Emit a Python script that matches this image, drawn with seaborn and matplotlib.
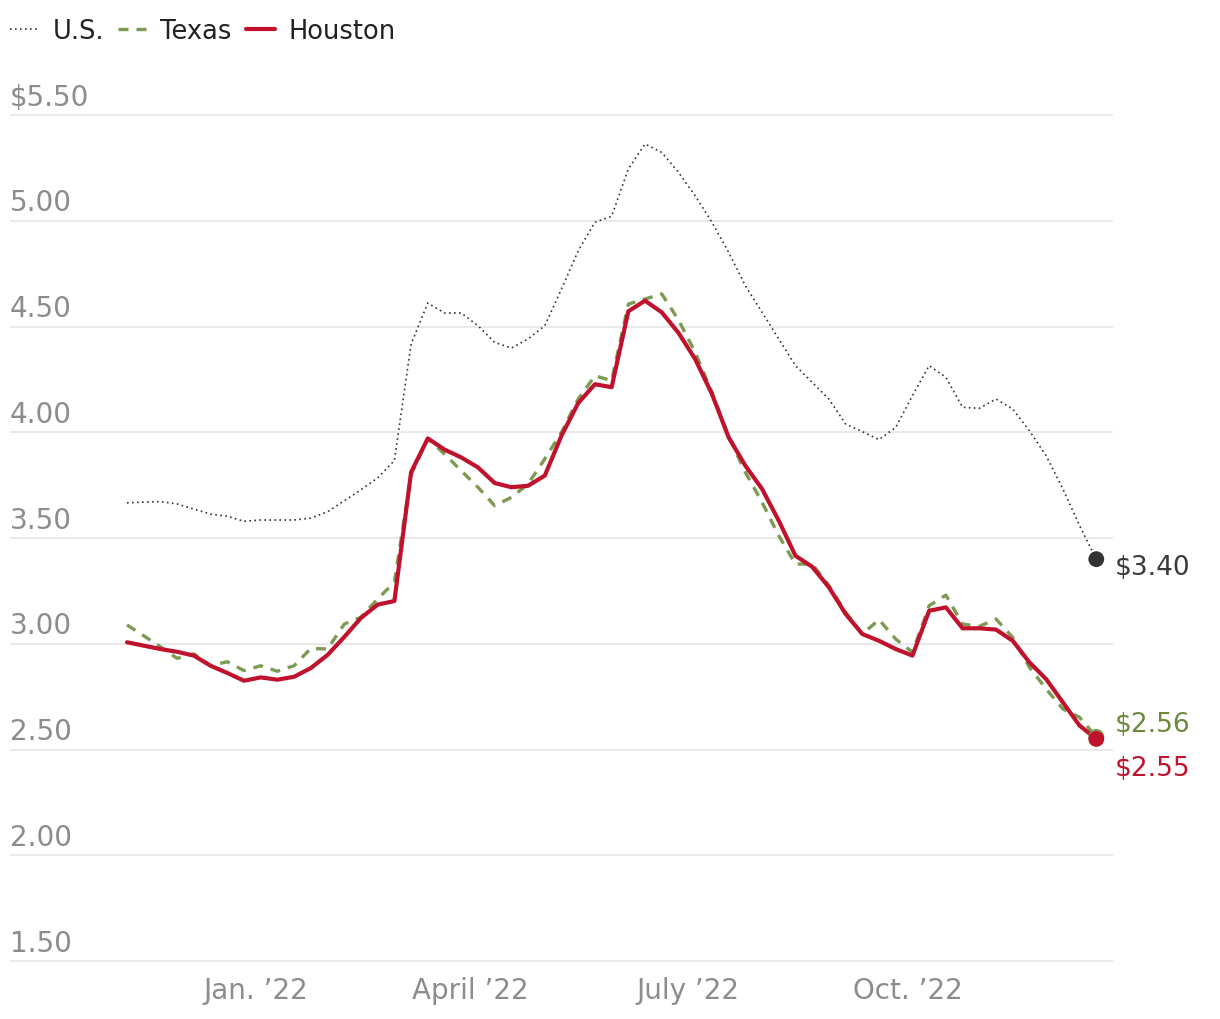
import numpy as np
import pandas as pd
import matplotlib
matplotlib.use("Agg")
import matplotlib.pyplot as plt
import seaborn as sns
from matplotlib.lines import Line2D

# ---------------- data ----------------
start_date = "2021-11-08"
n_weeks = 59

us_price = [3.666, 3.670, 3.672, 3.661, 3.637, 3.613, 3.603, 3.579, 3.585, 3.585,
            3.585, 3.594, 3.624, 3.676, 3.728, 3.784, 3.866, 4.417, 4.611, 4.564,
            4.564, 4.504, 4.425, 4.398, 4.441, 4.504, 4.677, 4.858, 4.993, 5.021,
            5.245, 5.363, 5.323, 5.229, 5.118, 4.993, 4.851, 4.693, 4.567, 4.441,
            4.315, 4.236, 4.157, 4.039, 4.003, 3.965, 4.023, 4.173, 4.315, 4.260,
            4.118, 4.113, 4.157, 4.110, 4.007, 3.889, 3.732, 3.558, 3.40]

texas_price = [3.089, 3.038, 2.986, 2.931, 2.952, 2.896, 2.915, 2.873, 2.896, 2.870,
               2.896, 2.978, 2.975, 3.093, 3.125, 3.212, 3.291, 3.800, 3.970, 3.897,
               3.818, 3.740, 3.653, 3.692, 3.755, 3.874, 4.000, 4.157, 4.267, 4.244,
               4.606, 4.630, 4.654, 4.531, 4.378, 4.189, 3.980, 3.811, 3.669, 3.511,
               3.377, 3.377, 3.275, 3.149, 3.046, 3.114, 3.022, 2.960, 3.180, 3.230,
               3.093, 3.082, 3.117, 3.030, 2.889, 2.786, 2.692, 2.652, 2.56]

houston_price = [3.007, 2.991, 2.975, 2.962, 2.944, 2.896, 2.862, 2.825, 2.841, 2.830,
                 2.844, 2.885, 2.947, 3.032, 3.122, 3.185, 3.202, 3.811, 3.971, 3.918,
                 3.881, 3.834, 3.760, 3.740, 3.747, 3.795, 3.984, 4.138, 4.227, 4.213,
                 4.572, 4.622, 4.567, 4.470, 4.346, 4.181, 3.976, 3.842, 3.732, 3.582,
                 3.416, 3.364, 3.267, 3.141, 3.046, 3.014, 2.975, 2.944, 3.156, 3.172,
                 3.073, 3.073, 3.067, 3.014, 2.912, 2.833, 2.723, 2.613, 2.55]

series_names = ["U.S.", "Texas", "Houston"]
end_labels = ["$3.40", "$2.56", "$2.55"]

y_ticks = [1.5, 2.0, 2.5, 3.0, 3.5, 4.0, 4.5, 5.0, 5.5]
y_tick_labels = ["1.50", "2.00", "2.50", "3.00", "3.50", "4.00", "4.50", "5.00", "$5.50"]

x_tick_dates = ["2022-01-01", "2022-04-01", "2022-07-01", "2022-10-01"]
x_tick_labels = ["Jan. \u201922", "April \u201922", "July \u201922", "Oct. \u201922"]

# ---------------- style ----------------
sns.set_theme(style="white")
plt.rcParams["font.family"] = ["DejaVu Sans"]

us_color = "#333333"
tx_color = "#7d9a52"
tx_text_color = "#6a8a3c"
hou_color = "#c0122c"
grid_color = "#e3e3e3"
tick_color = "#8c8c8c"

dates = pd.date_range(start_date, periods=n_weeks, freq="7D")
df = pd.DataFrame({"date": dates, "U.S.": us_price,
                   "Texas": texas_price, "Houston": houston_price})

W, H = 1220, 1020
fig = plt.figure(figsize=(W / 100, H / 100), dpi=100)
y_lo, y_hi = 1.48, 5.52
px_per_unit = 211.5
bottom_px = 962 + (1.5 - y_lo) * px_per_unit
top_px = 116 - (y_hi - 5.5) * px_per_unit
ax = fig.add_axes([10 / W, (H - bottom_px) / H, (1113 - 10) / W, (bottom_px - top_px) / H])

# lines
sns.lineplot(data=df, x="date", y="U.S.", ax=ax, color=us_color,
             linewidth=1.2, linestyle=(0, (1, 2)), legend=False)
sns.lineplot(data=df, x="date", y="Texas", ax=ax, color=tx_color,
             linewidth=2.4, linestyle=(0, (3.0, 2.4)), legend=False)
sns.lineplot(data=df, x="date", y="Houston", ax=ax, color=hou_color,
             linewidth=3.0, legend=False)

# end markers
last = df.iloc[[-1]]
sns.scatterplot(data=last, x="date", y="U.S.", ax=ax, color=us_color, s=130,
                edgecolor="none", zorder=5, legend=False)
sns.scatterplot(data=last, x="date", y="Texas", ax=ax, color=tx_color, s=130,
                edgecolor="none", zorder=5, legend=False)
sns.scatterplot(data=last, x="date", y="Houston", ax=ax, color=hou_color, s=130,
                edgecolor="none", zorder=6, legend=False)

# end labels
ax.annotate(end_labels[0], xy=(dates[-1], us_price[-1]), xytext=(13.5, -6),
            textcoords="offset points", ha="left", va="center",
            fontsize=19, color="#3a3a3a", annotation_clip=False)
ax.annotate(end_labels[1], xy=(dates[-1], texas_price[-1]), xytext=(13.5, 9.5),
            textcoords="offset points", ha="left", va="center",
            fontsize=19, color=tx_text_color, annotation_clip=False)
ax.annotate(end_labels[2], xy=(dates[-1], houston_price[-1]), xytext=(13.5, -21),
            textcoords="offset points", ha="left", va="center",
            fontsize=19, color=hou_color, annotation_clip=False)

# axes
ax.set_xlim(pd.Timestamp("2021-09-20"), pd.Timestamp("2022-12-26"))
ax.set_ylim(y_lo, y_hi)
ax.set_yticks(y_ticks)
ax.yaxis.grid(True, color=grid_color, linewidth=1.1)
ax.xaxis.grid(False)
ax.set_axisbelow(True)
ax.tick_params(axis="y", length=0, labelleft=False)
for v, lab in zip(y_ticks, y_tick_labels):
    ax.annotate(lab, xy=(0, v), xycoords=ax.get_yaxis_transform(),
                xytext=(0, 7.5), textcoords="offset points",
                ha="left", va="baseline", fontsize=20, color=tick_color,
                annotation_clip=False)

ax.set_xticks(pd.to_datetime(x_tick_dates))
ax.set_xticklabels(x_tick_labels, fontsize=20, color=tick_color)
ax.tick_params(axis="x", length=0, pad=8)
ax.set_xlabel("")
ax.set_ylabel("")
for s in ax.spines.values():
    s.set_visible(False)

# legend
handles = [
    Line2D([], [], color=us_color, linewidth=1.2, linestyle=(0, (1, 2))),
    Line2D([], [], color=tx_color, linewidth=2.4, linestyle=(0, (3.0, 2.4))),
    Line2D([], [], color=hou_color, linewidth=3.0),
]
fig.legend(handles, series_names, loc="center left",
           bbox_to_anchor=(10 / W, 1 - 32 / H), ncol=3, frameon=False,
           fontsize=18.5, handlelength=1.15, handletextpad=0.5,
           columnspacing=0.55, borderpad=0, borderaxespad=0,
           labelcolor="#222222")

fig.savefig("out.png", dpi=100, facecolor="white")
